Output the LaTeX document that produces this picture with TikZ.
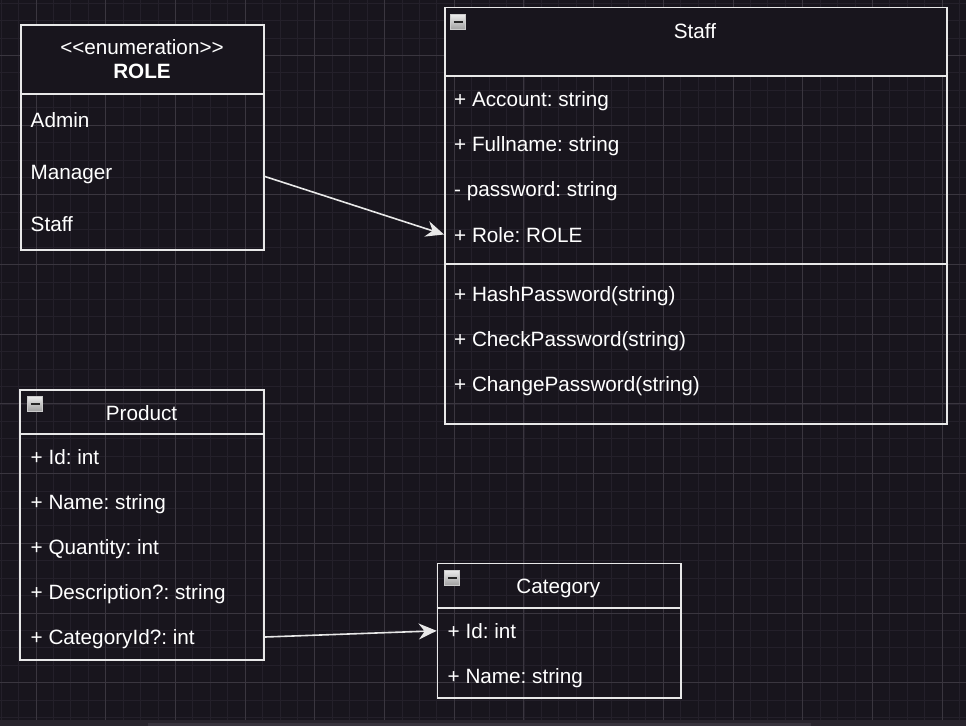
\documentclass[tikz,border=0pt]{standalone}
\usepackage{fontspec}
\setmainfont{Liberation Sans}
\usetikzlibrary{arrows.meta}
\definecolor{bg}{HTML}{18151D}
\definecolor{gminor}{HTML}{24202A}
\definecolor{gmajor}{HTML}{3A363F}
\definecolor{edge}{HTML}{E8E8E8}
\definecolor{sbar}{HTML}{29252D}
\definecolor{sthumb}{HTML}{38343D}
\newcommand{\umlfs}{\fontsize{20.7}{24}\selectfont}
\frenchspacing
\begin{document}
\begin{tikzpicture}[x=1pt,y=-1pt,
  umlbox/.style={draw=edge, line width=1.6pt, rectangle, inner sep=0pt, anchor=north west},
  divider/.style={draw=edge, line width=1.6pt},
  rowtext/.style={anchor=west, inner sep=0pt, text=white, font=\umlfs, text height=14.8pt, text depth=0pt},
  titletext/.style={anchor=center, inner sep=0pt, text=white, font=\umlfs, text height=14.8pt, text depth=0pt},
  icon/.style={rectangle, minimum size=15pt, inner sep=0pt, draw=gray!40!white, line width=1pt, top color=gray!15!white, bottom color=gray!75},
  minus/.style={draw=black!85, line width=1.6pt},
  conn/.style={draw=edge, line width=1.6pt, -{Stealth[length=18pt, width=16pt, inset=6pt]}},
  gridminor/.style={draw=gminor, line width=0.8pt},
  gridmajor/.style={draw=gmajor, line width=0.9pt}]
% background
\fill[bg] (0,0) rectangle (966,726);
\useasboundingbox (0,0) rectangle (966,726);
% grid
\foreach \i in {-2,...,53} {\draw[gridminor] ({36+\i*17.425},0) -- ({36+\i*17.425},720);}
\foreach \j in {-3,...,39} {\draw[gridminor] (0,{55.4+\j*17.425}) -- (966,{55.4+\j*17.425});}
\foreach \i in {0,...,13} {\draw[gridmajor] ({36+\i*69.7},0) -- ({36+\i*69.7},720);}
\foreach \j in {0,...,9} {\draw[gridmajor] (0,{55.4+\j*69.7}) -- (966,{55.4+\j*69.7});}
% scroll bar
\fill[sbar] (0,720) rectangle (966,726);
\fill[sthumb] (148,723) rectangle (811,726);
% header fills
\fill[bg] (20,24.3) rectangle (263.3,94);
\fill[bg] (444,6.7) rectangle (946,76);
% boxes
\node[umlbox, minimum width=243.3pt, minimum height=225pt] (role) at (20,24.3) {};
\node[umlbox, minimum width=502pt, minimum height=416.3pt] (staff) at (444,6.7) {};
\node[umlbox, minimum width=244pt, minimum height=270pt] (product) at (19.3,389) {};
\node[umlbox, minimum width=243.3pt, minimum height=134.6pt] (category) at (436.7,562.7) {};
% dividers
\draw[divider] (role.west |- 0,94) -- (role.east |- 0,94);
\draw[divider] (staff.west |- 0,76) -- (staff.east |- 0,76);
\draw[divider] (staff.west |- 0,264) -- (staff.east |- 0,264);
\draw[divider] (product.west |- 0,434) -- (product.east |- 0,434);
\draw[divider] (category.west |- 0,608) -- (category.east |- 0,608);
% icons
\node[icon] (staffIcon) at (458,22) {};
\draw[minus] ([xshift=-4.5pt]staffIcon.center) -- ([xshift=4.5pt]staffIcon.center);
\node[icon] (productIcon) at (35.3,403.7) {};
\draw[minus] ([xshift=-4.5pt]productIcon.center) -- ([xshift=4.5pt]productIcon.center);
\node[icon] (categoryIcon) at (452.3,577.8) {};
\draw[minus] ([xshift=-4.5pt]categoryIcon.center) -- ([xshift=4.5pt]categoryIcon.center);
% ROLE
\node[titletext] (roleStereo) at (142,47) {<\kern0pt<\kern0pt enumeration>\kern0pt>};
\node[titletext, font=\umlfs\bfseries] (roleName) at (142,71.5) {ROLE};
\node[rowtext] (roleAdmin) at (30.5,120) {Admin};
\node[rowtext] (roleManager) at (30.5,172) {Manager};
\node[rowtext] (roleStaff) at (30.5,224) {Staff};
% Staff
\node[titletext] (staffTitle) at (695,31) {Staff};
\node[rowtext] (sAccount) at (454,99.5) {+ Account: string};
\node[rowtext] (sFullname) at (454,144.5) {+ Fullname: string};
\node[rowtext] (sPassword) at (454,189.5) {- password: string};
\node[rowtext] (sRole) at (454,235) {+ Role: ROLE};
\node[rowtext] (sHash) at (454,294.5) {+ HashPassword(string)};
\node[rowtext] (sCheck) at (454,339.5) {+ CheckPassword(string)};
\node[rowtext] (sChange) at (454,384.5) {+ ChangePassword(string)};
% Product
\node[titletext] (productTitle) at (141.5,412.8) {Product};
\node[rowtext] (pId) at (30.5,457.5) {+ Id: int};
\node[rowtext] (pName) at (30.5,502.5) {+ Name: string};
\node[rowtext] (pQuantity) at (30.5,547.5) {+ Quantity: int};
\node[rowtext] (pDesc) at (30.5,592.5) {+ Description?: string};
\node[rowtext] (pCat) at (30.5,637.5) {+ CategoryId?: int};
% Category
\node[titletext] (categoryTitle) at (558.3,585.8) {Category};
\node[rowtext] (cId) at (447.5,631.5) {+ Id: int};
\node[rowtext] (cName) at (447.5,676.5) {+ Name: string};
% connectors
\coordinate (roleOut) at (role.east |- 0,176.5);
\coordinate (staffIn) at (staff.west |- 0,234.5);
\draw[conn] (roleOut) -- (staffIn);
\coordinate (prodOut) at (product.east |- 0,637);
\coordinate (catIn) at (category.west |- 0,630.8);
\draw[conn] (prodOut) -- (catIn);
\end{tikzpicture}
\end{document}
